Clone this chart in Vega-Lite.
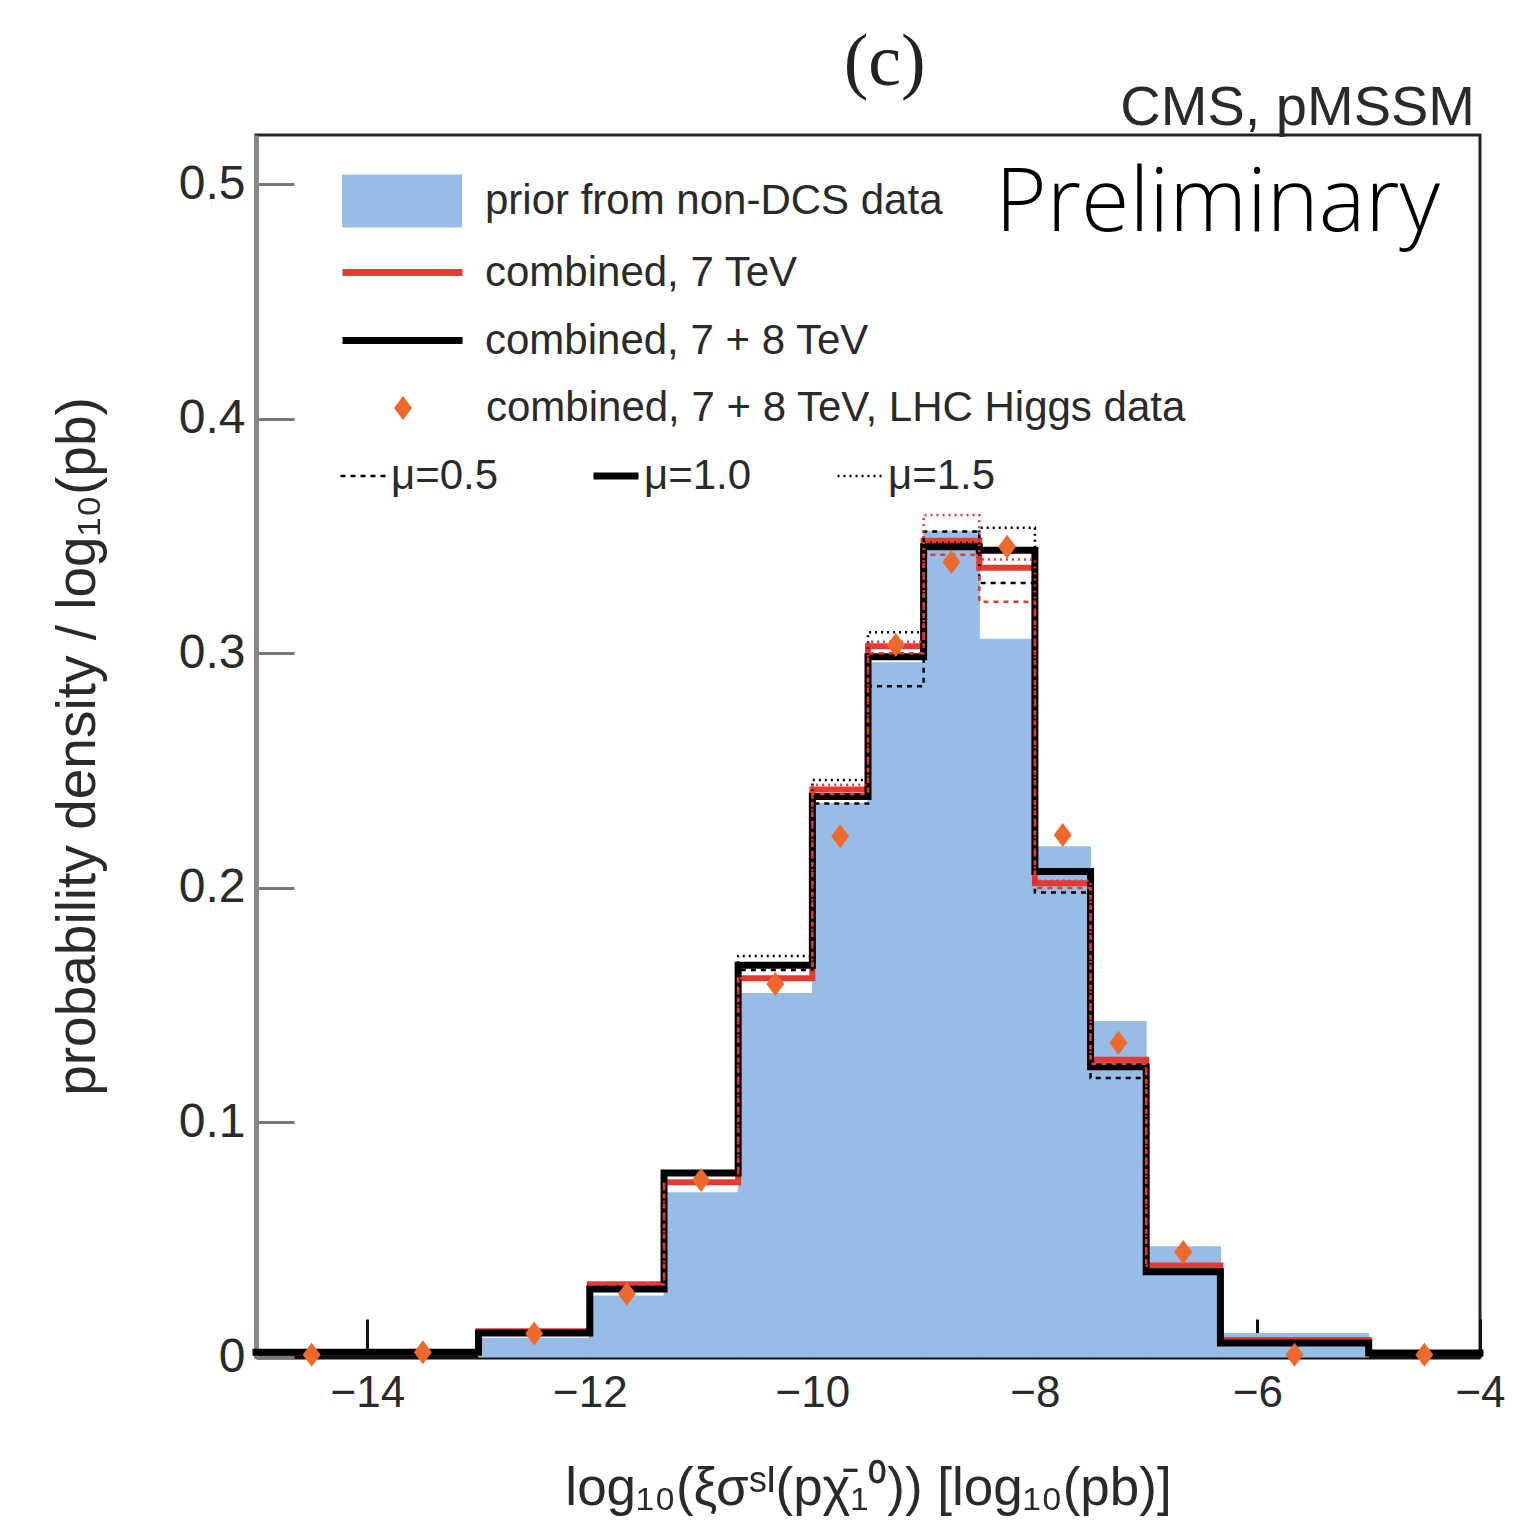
{
  "$schema": "https://vega.github.io/schema/vega-lite/v6.json",
  "width": 1224,
  "height": 1222,
  "autosize": {"type": "none"},
  "padding": {"left": 256, "top": 135, "right": 57, "bottom": 173},
  "background": "white",
  "config": {
    "view": {"stroke": "#222", "strokeWidth": 3},
    "legend": {"labelFont": "Liberation Sans", "labelColor": "#2a2a2a", "labelFontSize": 42, "padding": 0, "title": null, "labelLimit": 900}
  },
  "datasets": {
    "bins": [
      {"lo": -13, "hi": -12, "p": 0.008, "lab": "prior from non-DCS data"},
      {"lo": -12, "hi": -11.333, "p": 0.026, "lab": "prior from non-DCS data"},
      {"lo": -11.333, "hi": -10.667, "p": 0.070, "lab": "prior from non-DCS data"},
      {"lo": -10.667, "hi": -10, "p": 0.155, "lab": "prior from non-DCS data"},
      {"lo": -10, "hi": -9.5, "p": 0.236, "lab": "prior from non-DCS data"},
      {"lo": -9.5, "hi": -9, "p": 0.296, "lab": "prior from non-DCS data"},
      {"lo": -9, "hi": -8.5, "p": 0.352, "lab": "prior from non-DCS data"},
      {"lo": -8.5, "hi": -8, "p": 0.306, "lab": "prior from non-DCS data"},
      {"lo": -8, "hi": -7.5, "p": 0.2175, "lab": "prior from non-DCS data"},
      {"lo": -7.5, "hi": -7, "p": 0.143, "lab": "prior from non-DCS data"},
      {"lo": -7, "hi": -6.333, "p": 0.047, "lab": "prior from non-DCS data"},
      {"lo": -6.333, "hi": -5, "p": 0.010, "lab": "prior from non-DCS data"}
    ],
    "lines": [
      {"x": -15, "y": 0.002, "run": "combined, 7 + 8 TeV", "mu": "μ=1.0"},
      {"x": -14, "y": 0.002, "run": "combined, 7 + 8 TeV", "mu": "μ=1.0"},
      {"x": -13, "y": 0.0102, "run": "combined, 7 + 8 TeV", "mu": "μ=1.0"},
      {"x": -12, "y": 0.029, "run": "combined, 7 + 8 TeV", "mu": "μ=1.0"},
      {"x": -11.333, "y": 0.0785, "run": "combined, 7 + 8 TeV", "mu": "μ=1.0"},
      {"x": -10.667, "y": 0.167, "run": "combined, 7 + 8 TeV", "mu": "μ=1.0"},
      {"x": -10, "y": 0.239, "run": "combined, 7 + 8 TeV", "mu": "μ=1.0"},
      {"x": -9.5, "y": 0.2985, "run": "combined, 7 + 8 TeV", "mu": "μ=1.0"},
      {"x": -9, "y": 0.3454, "run": "combined, 7 + 8 TeV", "mu": "μ=1.0"},
      {"x": -8.5, "y": 0.344, "run": "combined, 7 + 8 TeV", "mu": "μ=1.0"},
      {"x": -8, "y": 0.207, "run": "combined, 7 + 8 TeV", "mu": "μ=1.0"},
      {"x": -7.5, "y": 0.1237, "run": "combined, 7 + 8 TeV", "mu": "μ=1.0"},
      {"x": -7, "y": 0.0363, "run": "combined, 7 + 8 TeV", "mu": "μ=1.0"},
      {"x": -6.333, "y": 0.006, "run": "combined, 7 + 8 TeV", "mu": "μ=1.0"},
      {"x": -5, "y": 0.0017, "run": "combined, 7 + 8 TeV", "mu": "μ=1.0"},
      {"x": -4, "y": 0.0017, "run": "combined, 7 + 8 TeV", "mu": "μ=1.0"},

      {"x": -15, "y": 0.002, "run": "combined, 7 TeV", "mu": "μ=1.0"},
      {"x": -14, "y": 0.002, "run": "combined, 7 TeV", "mu": "μ=1.0"},
      {"x": -13, "y": 0.011, "run": "combined, 7 TeV", "mu": "μ=1.0"},
      {"x": -12, "y": 0.031, "run": "combined, 7 TeV", "mu": "μ=1.0"},
      {"x": -11.333, "y": 0.0745, "run": "combined, 7 TeV", "mu": "μ=1.0"},
      {"x": -10.667, "y": 0.1615, "run": "combined, 7 TeV", "mu": "μ=1.0"},
      {"x": -10, "y": 0.242, "run": "combined, 7 TeV", "mu": "μ=1.0"},
      {"x": -9.5, "y": 0.303, "run": "combined, 7 TeV", "mu": "μ=1.0"},
      {"x": -9, "y": 0.348, "run": "combined, 7 TeV", "mu": "μ=1.0"},
      {"x": -8.5, "y": 0.3365, "run": "combined, 7 TeV", "mu": "μ=1.0"},
      {"x": -8, "y": 0.202, "run": "combined, 7 TeV", "mu": "μ=1.0"},
      {"x": -7.5, "y": 0.1267, "run": "combined, 7 TeV", "mu": "μ=1.0"},
      {"x": -7, "y": 0.039, "run": "combined, 7 TeV", "mu": "μ=1.0"},
      {"x": -6.333, "y": 0.0072, "run": "combined, 7 TeV", "mu": "μ=1.0"},
      {"x": -5, "y": 0.0017, "run": "combined, 7 TeV", "mu": "μ=1.0"},
      {"x": -4, "y": 0.0017, "run": "combined, 7 TeV", "mu": "μ=1.0"},

      {"x": -12, "y": 0.029, "run": "combined, 7 + 8 TeV", "mu": "μ=0.5"},
      {"x": -11.333, "y": 0.0785, "run": "combined, 7 + 8 TeV", "mu": "μ=0.5"},
      {"x": -10.667, "y": 0.165, "run": "combined, 7 + 8 TeV", "mu": "μ=0.5"},
      {"x": -10, "y": 0.236, "run": "combined, 7 + 8 TeV", "mu": "μ=0.5"},
      {"x": -9.5, "y": 0.286, "run": "combined, 7 + 8 TeV", "mu": "μ=0.5"},
      {"x": -9, "y": 0.352, "run": "combined, 7 + 8 TeV", "mu": "μ=0.5"},
      {"x": -8.5, "y": 0.330, "run": "combined, 7 + 8 TeV", "mu": "μ=0.5"},
      {"x": -8, "y": 0.198, "run": "combined, 7 + 8 TeV", "mu": "μ=0.5"},
      {"x": -7.5, "y": 0.119, "run": "combined, 7 + 8 TeV", "mu": "μ=0.5"},
      {"x": -7, "y": 0.036, "run": "combined, 7 + 8 TeV", "mu": "μ=0.5"},
      {"x": -6.333, "y": 0.036, "run": "combined, 7 + 8 TeV", "mu": "μ=0.5"},

      {"x": -12, "y": 0.029, "run": "combined, 7 + 8 TeV", "mu": "μ=1.5"},
      {"x": -11.333, "y": 0.0785, "run": "combined, 7 + 8 TeV", "mu": "μ=1.5"},
      {"x": -10.667, "y": 0.171, "run": "combined, 7 + 8 TeV", "mu": "μ=1.5"},
      {"x": -10, "y": 0.246, "run": "combined, 7 + 8 TeV", "mu": "μ=1.5"},
      {"x": -9.5, "y": 0.309, "run": "combined, 7 + 8 TeV", "mu": "μ=1.5"},
      {"x": -9, "y": 0.347, "run": "combined, 7 + 8 TeV", "mu": "μ=1.5"},
      {"x": -8.5, "y": 0.3535, "run": "combined, 7 + 8 TeV", "mu": "μ=1.5"},
      {"x": -8, "y": 0.207, "run": "combined, 7 + 8 TeV", "mu": "μ=1.5"},
      {"x": -7.5, "y": 0.124, "run": "combined, 7 + 8 TeV", "mu": "μ=1.5"},
      {"x": -7, "y": 0.036, "run": "combined, 7 + 8 TeV", "mu": "μ=1.5"},
      {"x": -6.333, "y": 0.036, "run": "combined, 7 + 8 TeV", "mu": "μ=1.5"},

      {"x": -12, "y": 0.031, "run": "combined, 7 TeV", "mu": "μ=0.5"},
      {"x": -11.333, "y": 0.0745, "run": "combined, 7 TeV", "mu": "μ=0.5"},
      {"x": -10.667, "y": 0.1615, "run": "combined, 7 TeV", "mu": "μ=0.5"},
      {"x": -10, "y": 0.240, "run": "combined, 7 TeV", "mu": "μ=0.5"},
      {"x": -9.5, "y": 0.300, "run": "combined, 7 TeV", "mu": "μ=0.5"},
      {"x": -9, "y": 0.342, "run": "combined, 7 TeV", "mu": "μ=0.5"},
      {"x": -8.5, "y": 0.322, "run": "combined, 7 TeV", "mu": "μ=0.5"},
      {"x": -8, "y": 0.200, "run": "combined, 7 TeV", "mu": "μ=0.5"},
      {"x": -7.5, "y": 0.125, "run": "combined, 7 TeV", "mu": "μ=0.5"},
      {"x": -7, "y": 0.039, "run": "combined, 7 TeV", "mu": "μ=0.5"},
      {"x": -6.333, "y": 0.039, "run": "combined, 7 TeV", "mu": "μ=0.5"},

      {"x": -12, "y": 0.031, "run": "combined, 7 TeV", "mu": "μ=1.5"},
      {"x": -11.333, "y": 0.0745, "run": "combined, 7 TeV", "mu": "μ=1.5"},
      {"x": -10.667, "y": 0.1615, "run": "combined, 7 TeV", "mu": "μ=1.5"},
      {"x": -10, "y": 0.244, "run": "combined, 7 TeV", "mu": "μ=1.5"},
      {"x": -9.5, "y": 0.305, "run": "combined, 7 TeV", "mu": "μ=1.5"},
      {"x": -9, "y": 0.359, "run": "combined, 7 TeV", "mu": "μ=1.5"},
      {"x": -8.5, "y": 0.340, "run": "combined, 7 TeV", "mu": "μ=1.5"},
      {"x": -8, "y": 0.203, "run": "combined, 7 TeV", "mu": "μ=1.5"},
      {"x": -7.5, "y": 0.127, "run": "combined, 7 TeV", "mu": "μ=1.5"},
      {"x": -7, "y": 0.039, "run": "combined, 7 TeV", "mu": "μ=1.5"},
      {"x": -6.333, "y": 0.039, "run": "combined, 7 TeV", "mu": "μ=1.5"}
    ],
    "pts": [
      {"c": -14.5, "v": 0.001, "lab": "combined, 7 + 8 TeV, LHC Higgs data"},
      {"c": -13.5, "v": 0.002, "lab": "combined, 7 + 8 TeV, LHC Higgs data"},
      {"c": -12.5, "v": 0.010, "lab": "combined, 7 + 8 TeV, LHC Higgs data"},
      {"c": -11.667, "v": 0.027, "lab": "combined, 7 + 8 TeV, LHC Higgs data"},
      {"c": -11.0, "v": 0.0755, "lab": "combined, 7 + 8 TeV, LHC Higgs data"},
      {"c": -10.333, "v": 0.159, "lab": "combined, 7 + 8 TeV, LHC Higgs data"},
      {"c": -9.75, "v": 0.222, "lab": "combined, 7 + 8 TeV, LHC Higgs data"},
      {"c": -9.25, "v": 0.3036, "lab": "combined, 7 + 8 TeV, LHC Higgs data"},
      {"c": -8.75, "v": 0.339, "lab": "combined, 7 + 8 TeV, LHC Higgs data"},
      {"c": -8.25, "v": 0.3455, "lab": "combined, 7 + 8 TeV, LHC Higgs data"},
      {"c": -7.75, "v": 0.2226, "lab": "combined, 7 + 8 TeV, LHC Higgs data"},
      {"c": -7.25, "v": 0.134, "lab": "combined, 7 + 8 TeV, LHC Higgs data"},
      {"c": -6.667, "v": 0.0448, "lab": "combined, 7 + 8 TeV, LHC Higgs data"},
      {"c": -5.667, "v": 0.001, "lab": "combined, 7 + 8 TeV, LHC Higgs data"},
      {"c": -4.5, "v": 0.001, "lab": "combined, 7 + 8 TeV, LHC Higgs data"}
    ],
    "notes": [
      {"t": "Preliminary"}
    ]
  },
  "layer": [
    {
      "data": {"name": "bins"},
      "mark": {"type": "rect", "stroke": "#97BCE6", "strokeWidth": 1},
      "encoding": {
        "x": {"field": "lo", "type": "quantitative", "scale": {"domain": [-15, -4], "nice": false, "zero": false},
          "axis": {
            "values": [-15, -14.5, -14, -13.5, -13, -12.5, -12, -11.5, -11, -10.5, -10, -9.5, -9, -8.5, -8, -7.5, -7, -6.5, -6, -5.5, -5, -4.5, -4],
            "format": "d",
            "labelExpr": "datum.value % 2 === 0 ? datum.label : ''",
            "tickSize": {"condition": {"test": "datum.value % 2 === 0", "value": -38}, "value": -19},
            "tickColor": "#111", "tickWidth": 3,
            "domainColor": "#111", "domainWidth": 4,
            "labelFont": "Liberation Sans", "labelFontSize": 44, "labelColor": "#2a2a2a",
            "labelPadding": 52, "labelFlush": false, "labelOverlap": false, "grid": false,
            "title": "log₁₀(ξσˢᴵ(pχ̄₁⁰)) [log₁₀(pb)]",
            "titleFont": "Liberation Sans", "titleFontSize": 53, "titleFontWeight": "normal", "titleColor": "#2a2a2a", "titlePadding": 28
          }},
        "x2": {"field": "hi"},
        "y": {"field": "p", "type": "quantitative", "scale": {"domain": [0, 0.521], "nice": false},
          "axis": {
            "values": [0, 0.1, 0.2, 0.3, 0.4, 0.5],
            "format": ".1~f",
            "tickSize": -38, "tickColor": "#777", "tickWidth": 3,
            "domainColor": "#888", "domainWidth": 5,
            "labelFont": "Liberation Sans", "labelFontSize": 48, "labelColor": "#2a2a2a",
            "labelPadding": 49, "labelFlush": false, "grid": false,
            "title": "probability density / log₁₀(pb)",
            "titleFont": "Liberation Sans", "titleFontSize": 55, "titleFontWeight": "normal", "titleColor": "#2a2a2a", "titlePadding": 72
          }},
        "y2": {"datum": 0},
        "fill": {"field": "lab", "type": "nominal",
          "scale": {"domain": ["prior from non-DCS data"], "range": ["#97BCE6"]},
          "legend": {"orient": "none", "legendX": 86, "legendY": 6, "symbolType": "M-1,-0.44L1,-0.44L1,0.44L-1,0.44Z", "symbolSize": 14400, "symbolStrokeWidth": 0, "labelOffset": 23}}
      }
    },
    {
      "data": {"name": "lines"},
      "encoding": {
        "x": {"field": "x", "type": "quantitative", "scale": {"domain": [-15, -4], "nice": false, "zero": false}},
        "y": {"field": "y", "type": "quantitative", "scale": {"domain": [0, 0.521], "nice": false}},
        "stroke": {"field": "run", "type": "nominal",
          "scale": {"domain": ["combined, 7 TeV", "combined, 7 + 8 TeV"], "range": ["#E53A33", "#000000"]},
          "legend": {"orient": "none", "legendX": 113, "legendY": 104, "symbolType": "M-2,0L2,0", "symbolSize": 3600, "symbolStrokeWidth": 7, "labelOffset": 49, "rowPadding": 13}},
        "strokeDash": {"field": "mu", "type": "nominal",
          "scale": {"domain": ["μ=0.5", "μ=1.0", "μ=1.5"], "range": [[5, 5], [1, 0], [2, 4]]},
          "legend": {"orient": "none", "direction": "horizontal", "legendX": 86, "legendY": 320, "symbolType": "M-1,0L1,0", "symbolSize": 2025, "symbolStrokeColor": "#000", "symbolStrokeWidth": 3, "labelOffset": 7, "labelFontSize": 42, "columnPadding": 80,
            "encode": {"symbols": {"update": {"strokeWidth": {"signal": "datum.value === 'μ=1.0' ? 7 : 2.5"}}}}}}
      },
      "layer": [
        {"transform": [{"filter": "datum.run === 'combined, 7 TeV' && datum.mu === 'μ=1.0'"}],
         "mark": {"type": "line", "interpolate": "step-after", "strokeWidth": 6, "strokeCap": "butt"}},
        {"transform": [{"filter": "datum.run === 'combined, 7 + 8 TeV' && datum.mu === 'μ=1.0'"}],
         "mark": {"type": "line", "interpolate": "step-after", "strokeWidth": 7, "strokeCap": "square"}},
        {"transform": [{"filter": "datum.run === 'combined, 7 + 8 TeV' && datum.mu !== 'μ=1.0'"}],
         "mark": {"type": "line", "interpolate": "step-after", "strokeWidth": 2.5, "strokeCap": "butt"}},
        {"transform": [{"filter": "datum.run === 'combined, 7 TeV' && datum.mu !== 'μ=1.0'"}],
         "mark": {"type": "line", "interpolate": "step-after", "strokeWidth": 2.5, "strokeCap": "butt"}}
      ]
    },
    {
      "data": {"name": "pts"},
      "mark": {"type": "point", "filled": true, "fill": "#EE6A2C", "strokeWidth": 0, "opacity": 1, "size": 576},
      "encoding": {
        "x": {"field": "c", "type": "quantitative", "scale": {"domain": [-15, -4], "nice": false, "zero": false}},
        "y": {"field": "v", "type": "quantitative", "scale": {"domain": [0, 0.521], "nice": false}},
        "shape": {"field": "lab", "type": "nominal",
          "scale": {"domain": ["combined, 7 + 8 TeV, LHC Higgs data"], "range": ["M0,-1L0.75,0L0,1L-0.75,0Z"]},
          "legend": {"orient": "none", "legendX": 126, "legendY": 252, "symbolSize": 576, "symbolFillColor": "#EE6A2C", "symbolStrokeWidth": 0, "labelOffset": 62}}
      }
    },
    {
      "data": {"name": "notes"},
      "mark": {"type": "text", "align": "right", "baseline": "alphabetic", "font": "Open Sans", "fontWeight": 300, "fontSize": 88, "color": "#000", "dx": -40},
      "encoding": {
        "x": {"datum": -4, "type": "quantitative", "scale": {"domain": [-15, -4], "nice": false, "zero": false}},
        "y": {"datum": 0.48, "type": "quantitative", "scale": {"domain": [0, 0.521], "nice": false}},
        "text": {"field": "t"}
      }
    },
    {
      "data": {"values": [{"t": "CMS, pMSSM"}]},
      "mark": {"type": "text", "align": "right", "baseline": "alphabetic", "font": "Liberation Sans", "fontSize": 56, "color": "#2a2a2a", "dx": -5, "dy": -10},
      "encoding": {
        "x": {"datum": -4, "type": "quantitative", "scale": {"domain": [-15, -4], "nice": false, "zero": false}},
        "y": {"datum": 0.521, "type": "quantitative", "scale": {"domain": [0, 0.521], "nice": false}},
        "text": {"field": "t"}
      }
    },
    {
      "data": {"values": [{"t": "(c)"}]},
      "mark": {"type": "text", "align": "center", "baseline": "alphabetic", "font": "Liberation Serif", "fontSize": 74, "color": "#222", "dy": -50},
      "encoding": {
        "x": {"datum": -9.35, "type": "quantitative", "scale": {"domain": [-15, -4], "nice": false, "zero": false}},
        "y": {"datum": 0.521, "type": "quantitative", "scale": {"domain": [0, 0.521], "nice": false}},
        "text": {"field": "t"}
      }
    }
  ]
}
